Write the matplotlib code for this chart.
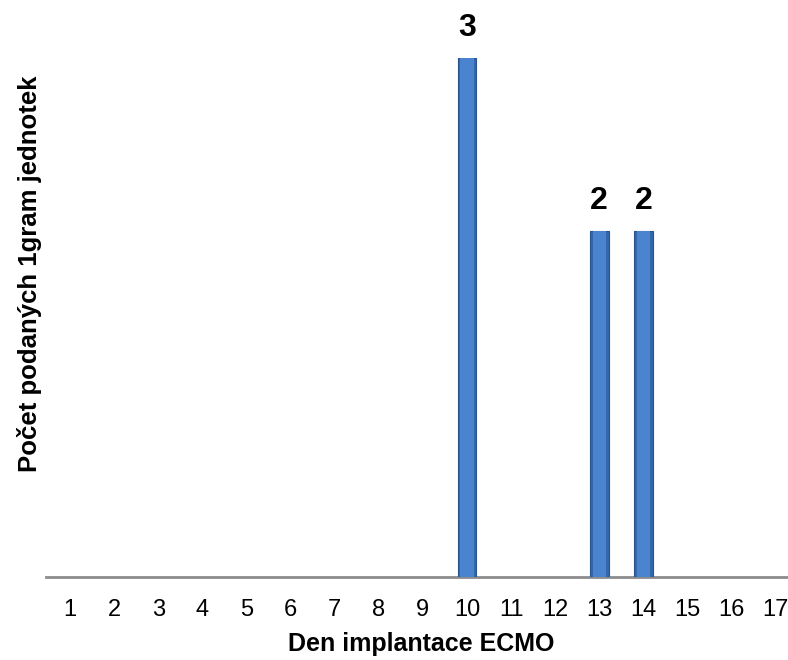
import matplotlib

matplotlib.use("Agg")
import matplotlib.pyplot as plt
import numpy as np

plt.rcParams["font.family"] = ["Liberation Sans", "DejaVu Sans"]

days = [str(d) for d in range(1, 18)]
units = [0, 0, 0, 0, 0, 0, 0, 0, 0, 3, 0, 0, 2, 2, 0, 0, 0]

x_label = "Den implantace ECMO"
y_label = "Počet podaných 1gram jednotek"

fig = plt.figure(figsize=(7.88, 6.6), dpi=100)
ax = fig.add_axes([0.0584, 0.1258, 0.951, 0.7862])

x = np.arange(len(days))
vals = np.array(units, dtype=float)
mask = vals > 0

# sloupce s jednoduchým "zkoseným" vzhledem: tmavší okraj + světlejší střed
ax.bar(x[mask], vals[mask], width=0.42, color="#3467AB",
       edgecolor="#2A5490", linewidth=0.8, zorder=3)
ax.bar(x[mask], vals[mask], width=0.30, color="#4A84CF",
       linewidth=0, zorder=4)

# hodnoty nad sloupci
for xi, v in zip(x[mask], vals[mask]):
    ax.annotate(f"{int(v)}", (xi, v), xytext=(0, 11), textcoords="offset points",
                ha="center", va="bottom", fontsize=23, fontweight="bold")

ax.set_xlim(-0.55, len(days) - 0.55)
ax.set_ylim(0, 3)
ax.set_xticks(x)
ax.set_xticklabels(days, fontsize=17)
ax.tick_params(axis="x", length=0, pad=16)
ax.set_yticks([])

for side in ["top", "right", "left"]:
    ax.spines[side].set_visible(False)
ax.spines["bottom"].set_color("#8C8C8C")
ax.spines["bottom"].set_linewidth(2)

fig.text(0.535, 0.024, x_label, ha="center", va="center",
         fontsize=18, fontweight="bold")
fig.text(0.038, 0.585, y_label, rotation=90, ha="center", va="center",
         fontsize=18.5, fontweight="bold")

fig.savefig("out.png", dpi=100)
plt.close(fig)
